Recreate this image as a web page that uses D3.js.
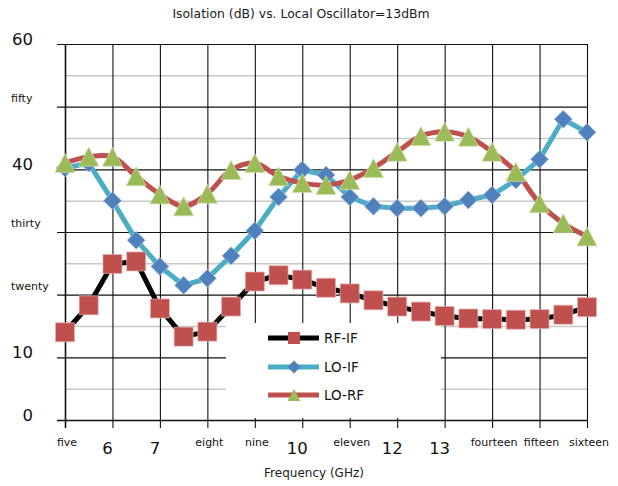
<!DOCTYPE html>
<html><head><meta charset="utf-8">
<script src="https://cdn.jsdelivr.net/npm/d3@7"></script>
<style>body{margin:0;background:#fff}svg{display:block;font-family:"DejaVu Sans",sans-serif}</style>
</head><body><svg id="c" width="618" height="486"></svg>
<script>
const freqs = [5,5.5,6,6.5,7,7.5,8,8.5,9,9.5,10,10.5,11,11.5,12,12.5,13,13.5,14,14.5,15,15.5,16];
const rfIf = [14.0,18.3,24.9,25.3,17.8,13.3,14.1,18.1,22.1,23.1,22.4,21.1,20.2,19.1,18.1,17.3,16.6,16.2,16.1,16.0,16.1,16.8,18.0];
const loIf = [40.2,41.0,35.0,28.7,24.5,21.5,22.6,26.2,30.2,35.6,39.9,39.1,35.6,34.1,33.8,33.8,34.1,35.1,35.9,38.3,41.6,48.0,45.9];
const loRf = [41.0,42.0,42.0,38.9,36.0,34.1,36.1,39.9,41.0,38.9,37.8,37.5,38.3,40.2,42.8,45.3,46.0,45.2,42.8,39.6,34.6,31.4,29.3];
const seriesNames = ["RF-IF","LO-IF","LO-RF"];
const xTickValues = [5,6,7,8,9,10,11,12,13,14,15,16];
const xTickLabels = ["five","6","7","eight","nine","10","eleven","12","13","fourteen","fifteen","sixteen"];
const yTickValues = [0,10,20,30,40,50,60];
const yTickLabels = ["0","10","twenty","thirty","40","fifty","60"];
const yMinorValues = [5,15,25,35,45,55];
const chartTitle = "Isolation (dB) vs. Local Oscillator=13dBm";
const xTitle = "Frequency (GHz)";

const svg = d3.select("#c");
const x = d3.scaleLinear().domain([5,16]).range([65,587]);
const y = d3.scaleLinear().domain([0,60]).range([420,44]);
const isNum = s => /^\d+$/.test(s);

// minor grid
const gMinor = svg.append("g").attr("transform","translate(587,0)")
  .call(d3.axisLeft(y).tickValues(yMinorValues).tickSize(522).tickFormat(""));
gMinor.select(".domain").remove();
gMinor.selectAll("line").attr("stroke","#c8c8c8").attr("stroke-width",1.5);

// major horizontal grid + left ticks
const gMajor = svg.append("g").attr("transform","translate(587,0)")
  .call(d3.axisLeft(y).tickValues(yTickValues).tickSize(530).tickFormat(""));
gMajor.select(".domain").remove();
gMajor.selectAll("line").attr("stroke","#111").attr("stroke-width",d=>d===0?1.6:1.1);

// vertical grid + bottom ticks
const gVert = svg.append("g").attr("transform","translate(0,428)")
  .call(d3.axisTop(x).tickValues(xTickValues).tickSize(384).tickFormat(""));
gVert.select(".domain").remove();
gVert.selectAll("line").attr("stroke","#111").attr("stroke-width",d=>d===5?1.6:1.1);

// legend background
svg.append("rect").attr("x",226).attr("y",323).attr("width",215).attr("height",95).attr("fill","#fff");

// title
svg.append("text").attr("x",301).attr("y",18).attr("text-anchor","middle")
  .attr("font-size",12.4).attr("fill","#1a1a1a").text(chartTitle);
svg.append("text").attr("x",314).attr("y",477).attr("text-anchor","middle")
  .attr("font-size",12).attr("fill","#1a1a1a").text(xTitle);

// y labels
svg.append("g").selectAll("text").data(yTickValues).join("text")
  .each(function(d,i){
    const lab = yTickLabels[i];
    const t = d3.select(this).text(lab).attr("fill","#111");
    if(isNum(lab)) t.attr("x",33).attr("y",y(d)+1).attr("text-anchor","end").attr("font-size",16.5);
    else t.attr("x",11).attr("y",y(d)-5).attr("text-anchor","start").attr("font-size",11);
  });

// x labels
svg.append("g").selectAll("text").data(xTickValues).join("text")
  .each(function(d,i){
    const lab = xTickLabels[i];
    const t = d3.select(this).text(lab).attr("fill","#111").attr("text-anchor","middle");
    if(isNum(lab)) t.attr("x",x(d)-5).attr("y",454).attr("font-size",16.5);
    else t.attr("x",x(d)+2).attr("y",446).attr("font-size",11);
  });

// series
const pts = vals => freqs.map((f,i)=>[f,vals[i]]);
const lineStraight = d3.line().x(d=>x(d[0])).y(d=>y(d[1]));
const lineSmooth = d3.line().x(d=>x(d[0])).y(d=>y(d[1])).curve(d3.curveCatmullRom.alpha(0.5));

const squarePath = s => `M${-s/2},${-s/2}h${s}v${s}h${-s}Z`;
const diamondPath = s => `M0,${-s/2}L${s/2},0L0,${s/2}L${-s/2},0Z`;
const trianglePath = (w,h) => `M0,${-h/2}L${w/2},${h/2}L${-w/2},${h/2}Z`;

const series = [
  {name:seriesNames[0], vals:rfIf, line:"#000", gen:lineStraight, fill:"#c0504d", stroke:"#e6b0ae", mk:squarePath(19), lmk:squarePath(12)},
  {name:seriesNames[1], vals:loIf, line:"#4bacc6", gen:lineStraight, fill:"#4f81bd", stroke:"#a9c2e0", mk:diamondPath(18), lmk:diamondPath(13)},
  {name:seriesNames[2], vals:loRf, line:"#c0504d", gen:lineSmooth, fill:"#9bbb59", stroke:"#cfe0ae", mk:trianglePath(20,19), lmk:trianglePath(13,12)}
];

series.forEach(s=>{
  svg.append("path").datum(pts(s.vals)).attr("d",s.gen).attr("fill","none")
    .attr("stroke",s.line).attr("stroke-width",5).attr("stroke-linejoin","round");
});
series.forEach(s=>{
  svg.append("g").selectAll("path").data(pts(s.vals)).join("path")
    .attr("transform",d=>`translate(${x(d[0])},${y(d[1])})`)
    .attr("d",s.mk).attr("fill",s.fill).attr("stroke",s.stroke).attr("stroke-width",0.7);
});

// legend
const legY = [338,367,395];
series.forEach((s,i)=>{
  const g = svg.append("g").attr("transform",`translate(0,${legY[i]})`);
  g.append("line").attr("x1",268).attr("x2",319).attr("y1",0).attr("y2",0)
    .attr("stroke",s.line).attr("stroke-width",5);
  g.append("path").attr("transform","translate(294,0)").attr("d",s.lmk).attr("fill",s.fill);
  g.append("text").attr("x",324).attr("y",5).attr("font-size",13.5).attr("fill","#111").text(s.name);
});
</script></body></html>
